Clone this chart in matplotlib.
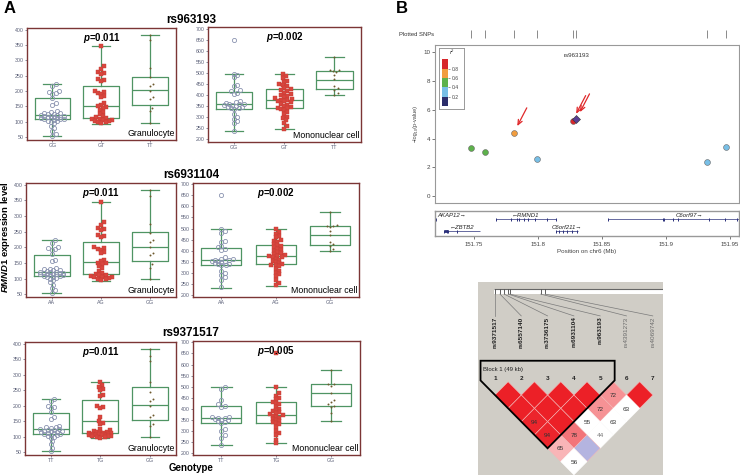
import numpy as np
import matplotlib
matplotlib.use('Agg')
from matplotlib import pyplot as plt
from matplotlib.patches import Polygon, Rectangle

plt.rcParams['font.family'] = ['Liberation Sans', 'DejaVu Sans']
plt.rcParams['mathtext.fontset'] = 'custom'
plt.rcParams['mathtext.it'] = 'Liberation Sans:italic:bold'
plt.rcParams['mathtext.rm'] = 'Liberation Sans:bold'
plt.rcParams['mathtext.bf'] = 'Liberation Sans:bold'

# ---------------------------------------------------------------- panel A data
snp_titles = ['rs963193', 'rs6931104', 'rs9371517']
genos = [['GG', 'GT', 'TT'], ['AA', 'AG', 'GG'], ['TT', 'TG', 'GG']]
p_gran = ['0.011', '0.011', '0.011']
p_mono = ['0.002', '0.002', '0.005']

# rs963193 and rs6931104 give the same groups
gran_a_1 = [222, 215, 200, 197, 194, 190, 178, 160, 156, 135, 132, 130, 128,
            126, 124, 122, 121, 120, 119, 118, 117, 116, 115, 114, 113, 112,
            110, 109, 108, 106, 104, 102, 100, 95, 88, 80, 70, 62, 55]
gran_a_2 = [345, 280, 272, 262, 258, 255, 240, 235, 232, 200, 198, 195, 192,
            185, 180, 160, 155, 150, 148, 145, 140, 133, 125, 118, 115, 112,
            110, 108, 106, 105, 104, 102, 100, 98, 96]
gran_a_3 = [383, 365, 275, 245, 222, 218, 200, 180, 175, 145, 135, 97]
mono_a_1 = [650, 497, 490, 480, 445, 440, 420, 415, 410, 405, 370, 365, 362,
            360, 358, 356, 355, 352, 350, 345, 342, 340, 338, 335, 310, 300,
            290, 280, 270, 235]
mono_a_2 = [497, 485, 475, 465, 460, 450, 445, 440, 430, 425, 420, 415, 410,
            405, 400, 395, 390, 385, 380, 378, 375, 372, 370, 365, 360, 355,
            350, 345, 340, 338, 335, 330, 320, 310, 300, 295, 285, 270, 255, 245]
mono_a_3 = [573, 515, 512, 510, 505, 490, 470, 440, 430, 420, 410, 400]

# rs9371517
gran_b_1 = [222, 214, 198, 195, 192, 180, 165, 158, 135, 132, 130, 128, 126,
            124, 122, 120, 119, 118, 117, 116, 115, 113, 112, 110, 108, 106,
            104, 102, 100, 95, 85, 75, 65, 55]
gran_b_2 = [275, 265, 260, 255, 250, 235, 230, 200, 195, 192, 165, 150, 145,
            140, 125, 120, 118, 116, 115, 114, 113, 112, 111, 110, 109, 108,
            107, 106, 105, 104, 103, 102, 101, 100, 98, 96]
gran_b_3 = [383, 360, 345, 275, 243, 220, 215, 200, 170, 165, 140, 135, 98]
mono_b_1 = [497, 490, 440, 420, 415, 410, 365, 362, 360, 358, 355, 352, 348,
            345, 340, 335, 310, 300, 280, 270, 235]
mono_b_2 = [650, 497, 470, 460, 450, 445, 430, 425, 420, 410, 400, 395, 390,
            385, 380, 375, 372, 370, 365, 360, 355, 350, 345, 340, 335, 330,
            320, 300, 290, 280, 260, 245]
mono_b_3 = [573, 512, 510, 505, 470, 440, 430, 420, 415, 410, 380, 345]

# boxes: whisker low, q1, median, q3, whisker high
gran_a_box = [(53, 108, 122, 176, 222), (92, 114, 153, 218, 345), (97, 155, 202, 247, 383)]
mono_a_box = [(234, 334, 357, 412, 497), (242, 339, 376, 426, 497), (398, 426, 469, 511, 573)]
gran_b_box = [(55, 110, 125, 175, 222), (95, 112, 150, 218, 275), (98, 155, 202, 260, 383)]
mono_b_box = [(235, 335, 360, 413, 497), (245, 337, 373, 432, 497), (345, 415, 470, 510, 573)]

gran_rows = [([gran_a_1, gran_a_2, gran_a_3], gran_a_box),
             ([gran_a_1, gran_a_2, gran_a_3], gran_a_box),
             ([gran_b_1, gran_b_2, gran_b_3], gran_b_box)]
mono_rows = [([mono_a_1, mono_a_2, mono_a_3], mono_a_box),
             ([mono_a_1, mono_a_2, mono_a_3], mono_a_box),
             ([mono_b_1, mono_b_2, mono_b_3], mono_b_box)]

# ---------------------------------------------------------------- panel B data
snp_pos = [151.748, 151.7586, 151.781, 151.799, 151.827, 151.830, 151.932, 151.9466]
snp_logp = [3.33, 3.05, 4.4, 2.59, 5.25, 5.37, 2.4, 3.4]
snp_r2 = [0.5, 0.5, 0.7, 0.3, 0.9, 1.0, 0.3, 0.3]
lead_snp = 5
arrowed = [2, 4, 5]

gene_names = ['AKAP12', 'RMND1', 'ZBTB2', 'C6orf211', 'C6orf97']
gene_start = [151.62, 151.767, 151.7268, 151.8141, 151.855]
gene_end = [151.7206, 151.8138, 151.7547, 151.8315, 151.982]
gene_strand = ['+', '-', '-', '+', '+']
gene_row = [0, 0, 1, 1, 0]
gene_exons = [[151.7203],
              [151.767, 151.779, 151.7833, 151.7854, 151.789, 151.7925, 151.7977, 151.8068, 151.8138],
              [151.7268, 151.7285, 151.7299, 151.737],
              [151.8141, 151.8164, 151.8195, 151.8229, 151.8263, 151.8302],
              [151.855, 151.8974, 151.8987, 151.9052, 151.9091, 151.9336, 151.9461, 151.9557]]

ld_names = ['rs9371517', 'rs6557140', 'rs3736175', 'rs6931104', 'rs963193', 'rs4391273', 'rs4069742']
ld_in_block = [1, 1, 1, 1, 1, 0, 0]
ld_map = [1.0, 1.19, 1.35, 1.51, 1.56, 2.74, 2.91]   # position along the top ruler
# D' x100 for each pair (i, j), and whether LOD >= 2
ld_dprime = {(1, 2): 100, (2, 3): 100, (3, 4): 100, (4, 5): 100, (5, 6): 72, (6, 7): 100,
             (1, 3): 100, (2, 4): 100, (3, 5): 100, (4, 6): 72, (5, 7): 63,
             (1, 4): 94, (2, 5): 100, (3, 6): 55, (4, 7): 63,
             (1, 5): 94, (2, 6): 78, (3, 7): 44,
             (1, 6): 65, (2, 7): 100,
             (1, 7): 56}
ld_weak = [(5, 7), (3, 6), (4, 7), (3, 7), (1, 7), (2, 7)]
block_snps = (1, 5)

W, H = 740, 475
fig = plt.figure(figsize=(7.4, 4.75), dpi=100)


def px_rect(x0, y0, x1, y1):
    return [x0 / W, 1 - y1 / H, (x1 - x0) / W, (y1 - y0) / H]


def swarm(vals, ppu, r=3.3, step=1.6, lim=12.0):
    # simple beeswarm: horizontal pixel offsets so markers do not pile up
    placed = []
    out = np.zeros(len(vals))
    cands = [0.0]
    for n in range(1, int(lim / step) + 1):
        cands += [n * step, -n * step]
    for i in np.argsort(vals):
        y = vals[i] * ppu
        best, best_d = 0.0, -1
        for c in cands:
            d = min([np.hypot(c - a, y - b) for a, b in placed] or [99])
            if d >= r:
                best = c
                break
            if d > best_d:
                best, best_d = c, d
        placed.append((best, y))
        out[i] = best
    return out


green = '#4f9463'
frame = '#7b3535'
tick_col = '#5b6078'
pt_styles = [dict(marker='o', ms=3.0, mfc='none', mec='#8a93b0', mew=0.6),
             dict(marker='s', ms=2.2, color='#d9463e', mec='#c43a32', mew=0.3),
             dict(marker='o', ms=1.4, color='#6e5a2e', mew=0)]


def box_panel(rect, groups, stats, labels, ylim, yticks, p, cell):
    ax = fig.add_axes(px_rect(*rect))
    bstats = [dict(whislo=s[0], q1=s[1], med=s[2], q3=s[3], whishi=s[4]) for s in stats]
    lp = dict(color=green, lw=0.9)
    ax.bxp(bstats, positions=[0, 1, 2], widths=0.73, capwidths=0.37, showfliers=False,
           boxprops=lp, whiskerprops=lp, capprops=lp, medianprops=lp)
    ppu = (rect[3] - rect[1]) / (ylim[1] - ylim[0])
    cw = (rect[2] - rect[0]) / 3.05
    for k, vals in enumerate(groups):
        offs = swarm(vals, ppu) / cw
        ax.plot(k + offs, vals, ls='none', zorder=3, **pt_styles[k])
    ax.set_xlim(-0.52, 2.53)
    ax.set_ylim(*ylim)
    ax.set_yticks(yticks)
    ax.set_xticks([0, 1, 2])
    ax.set_xticklabels(labels)
    ax.tick_params(labelsize=3.8, colors=tick_col, length=1.2, width=0.5, pad=1)
    for s in ax.spines.values():
        s.set_color(frame)
        s.set_linewidth(1.0)
    ax.text(0.5, 0.975, '$p$=' + p, transform=ax.transAxes, ha='center', va='top',
            fontsize=7, fontweight='bold')
    ax.text(0.99, 0.02, cell, transform=ax.transAxes, ha='right', va='bottom', fontsize=6.3)
    return ax


gran_rects = [(27, 28, 176, 140), (26, 183, 176, 297), (25, 342, 176, 455)]
mono_rects = [(208, 27, 361, 142), (193, 183, 359, 297), (193, 341, 360, 455)]
mono_lims = [(184, 710), (192, 705), (192, 706)]
title_y = [20, 175, 333]

for r in range(3):
    box_panel(gran_rects[r], gran_rows[r][0], gran_rows[r][1], genos[r], (41, 405),
              np.arange(50, 401, 50), p_gran[r], 'Granulocyte')
    box_panel(mono_rects[r], mono_rows[r][0], mono_rows[r][1], genos[r], mono_lims[r],
              np.arange(200, 701, 50), p_mono[r], 'Mononuclear cell')
    fig.text(191 / W, 1 - title_y[r] / H, snp_titles[r], ha='center', va='center',
             fontsize=8.5, fontweight='bold')

fig.text(6 / W, 1 - 237 / H, r'$RMND1$ expression level', rotation=90, ha='center',
         va='center', fontsize=6.8, fontweight='bold')
fig.text(191 / W, 1 - 468 / H, 'Genotype', ha='center', va='center', fontsize=7,
         fontweight='bold')
fig.text(4 / W, 1 - 1 / H, 'A', ha='left', va='top', fontsize=12, fontweight='bold')
fig.text(396 / W, 1 - 1 / H, 'B', ha='left', va='top', fontsize=12, fontweight='bold')

# ---------------------------------------------------------------- locus plot
r2_colors = ['#2b2d6a', '#78bfe6', '#5db14b', '#f19d3f', '#d7262b']
xlim = (151.7195, 151.957)
grey = '#999999'

ax_s = fig.add_axes(px_rect(435, 28, 739, 40))
ax_s.vlines(snp_pos, 0.2, 0.8, color='#777777', lw=0.6)
ax_s.set_xlim(*xlim)
ax_s.set_ylim(0, 1)
ax_s.axis('off')
fig.text(417 / W, 1 - 34 / H, 'Plotted SNPs', ha='center', va='center', fontsize=4.2,
         color='#333333')

ax_l = fig.add_axes(px_rect(435, 45, 739, 203))
for i, (x, y, r2) in enumerate(zip(snp_pos, snp_logp, snp_r2)):
    if i == lead_snp:
        ax_l.plot(x, y, marker='D', ms=3.6, color='#5b3f95', mec='#333333', mew=0.4, zorder=3)
    else:
        ax_l.plot(x, y, marker='o', ms=4.2, color=r2_colors[min(int(r2 / 0.2), 4)],
                  mec='#666666', mew=0.4, zorder=3)
for i in arrowed:
    ax_l.annotate('', xy=(snp_pos[i], snp_logp[i]), xytext=(9.4, 18), textcoords='offset points',
                  arrowprops=dict(arrowstyle='->,head_length=0.35,head_width=0.15',
                                  color='#e0282a', lw=0.9, shrinkA=0, shrinkB=5.5))
ax_l.text(snp_pos[lead_snp], 9.75, snp_titles[0], ha='center', va='center', fontsize=4.5,
          color='#333333')
ax_l.set_xlim(*xlim)
ax_l.set_ylim(-0.47, 10.5)
ax_l.set_xticks([])
ax_l.set_yticks([0, 2, 4, 6, 8, 10])
ax_l.tick_params(labelsize=4.5, colors='#444444', length=2, width=0.5, pad=1.5)
ax_l.set_ylabel('\u2212log\u2081\u2080(p-value)', fontsize=4, color='#444444', labelpad=4)
for s in ax_l.spines.values():
    s.set_color(grey)
    s.set_linewidth(0.8)

# r2 key
ax_k = fig.add_axes(px_rect(439, 48, 464, 109))
ax_k.set_xticks([])
ax_k.set_yticks([])
for s in ax_k.spines.values():
    s.set_color(grey)
    s.set_linewidth(0.7)
ax_k.text(0.5, 0.93, 'r\u00b2', transform=ax_k.transAxes, ha='center', va='center',
          fontsize=4.3, style='italic', color='#333333')
ax_c = fig.add_axes(px_rect(442.3, 59.3, 448.3, 106))
ax_c.bar(0, 0.2, bottom=[0, 0.2, 0.4, 0.6, 0.8], color=r2_colors, width=1)
ax_c.set_xlim(-0.5, 0.5)
ax_c.set_ylim(0, 1)
ax_c.set_xticks([])
ax_c.set_yticks([0.2, 0.4, 0.6, 0.8])
ax_c.yaxis.tick_right()
ax_c.tick_params(labelsize=3.6, colors='#444444', length=1.5, width=0.4, pad=0.8)
for s in ax_c.spines.values():
    s.set_visible(False)

# gene track
ax_g = fig.add_axes(px_rect(435, 211, 739, 236))
row_y = [0.67, 0.19]
gene_col = '#2a2f7a'
for name, a, b, st, row, ex in zip(gene_names, gene_start, gene_end, gene_strand,
                                   gene_row, gene_exons):
    y = row_y[row]
    ax_g.hlines(y, a, b, color=gene_col, lw=0.5)
    ax_g.vlines(ex, y - 0.06, y + 0.06, color=gene_col, lw=0.7)
    lab = name + '\u2192' if st == '+' else '\u2190' + name
    if a < xlim[0]:
        ax_g.text(xlim[0] + 0.002, y + 0.14, lab, ha='left', va='center', fontsize=4.3,
                  style='italic', color='#222222')
    else:
        ax_g.text((a + b) / 2, y + 0.14, lab, ha='center', va='center', fontsize=4.3,
                  style='italic', color='#222222')
ax_g.plot([151.7268, 151.7299], [row_y[1]] * 2, color=gene_col, lw=2, solid_capstyle='butt')
ax_g.set_xlim(*xlim)
ax_g.set_ylim(0, 1)
ax_g.set_yticks([])
ax_g.set_xticks([151.75, 151.8, 151.85, 151.9, 151.95])
ax_g.set_xticklabels(['151.75', '151.8', '151.85', '151.9', '151.95'])
ax_g.tick_params(labelsize=4.3, colors='#444444', length=2, width=0.5, pad=2)
ax_g.set_xlabel('Position on chr6 (Mb)', fontsize=4.5, color='#444444', labelpad=2)
for s in ax_g.spines.values():
    s.set_color(grey)
    s.set_linewidth(1.0)

# ---------------------------------------------------------------- haploview LD plot
ax_d = fig.add_axes(px_rect(478, 282, 663, 475))
ax_d.set_facecolor('#d0cdc6')
ax_d.set_xlim(0.354, 7.388)
ax_d.set_ylim(7.01, -7.5)
ax_d.set_xticks([])
ax_d.set_yticks([])
for s in ax_d.spines.values():
    s.set_visible(False)

ax_d.add_patch(Rectangle((0.96, -6.96), 7.388 - 0.96, 0.37, fc='white', ec='none'))
ax_d.hlines(-6.96, 0.96, 7.388, color='#666666', lw=0.8)
ax_d.vlines(ld_map, -6.96, -6.59, color='#444444', lw=0.6)
red = np.array([236, 32, 39]) / 255
for i, name in enumerate(ld_names, start=1):
    ax_d.plot([ld_map[i - 1], i], [-6.59, -4.95], color='#7a7a7a', lw=0.5)
    ax_d.text(i, -4.9, name, rotation=90, ha='center', va='top', fontsize=4.6,
              fontweight='bold' if ld_in_block[i - 1] else 'normal',
              color='#222222' if ld_in_block[i - 1] else '#6a6a6a')
    ax_d.text(i, -0.28, str(i), ha='center', va='center', fontsize=4.6, fontweight='bold',
              color='#222222')

for (i, j), d in ld_dprime.items():
    cx, cy = (i + j) / 2, j - i
    if (i, j) in ld_weak:
        fc = '#b4b4e0' if d == 100 else 'white'
    else:
        t = np.clip((d / 100 - 0.5) / 0.45, 0, 1)
        fc = tuple((1 - t) * np.ones(3) + t * red)
    ax_d.add_patch(Polygon([(cx - 0.5, cy), (cx, cy - 1), (cx + 0.5, cy), (cx, cy + 1)],
                           closed=True, fc=fc, ec='#f5b8b8' if fc != 'white' else 'white',
                           lw=0.4))
    if d < 100:
        ax_d.text(cx, cy + 0.05, str(d), ha='center', va='center', fontsize=4.6,
                  color='#777777' if d < 50 else '#333333')

b0, b1 = block_snps
mid = (b0 + b1) / 2
ax_d.add_patch(Polygon([(b0 - 0.55, -1.58), (b1 + 0.55, -1.58), (b1 + 0.55, -0.1),
                        (mid, b1 - b0 + 1), (b0 - 0.55, -0.1)],
                       closed=True, fill=False, ec='black', lw=1.3))
ax_d.text(b0 - 0.47, -0.95, 'Block 1 (49 kb)', ha='left', va='center', fontsize=4.3,
          color='#222222')

fig.savefig('out.png', dpi=100)
